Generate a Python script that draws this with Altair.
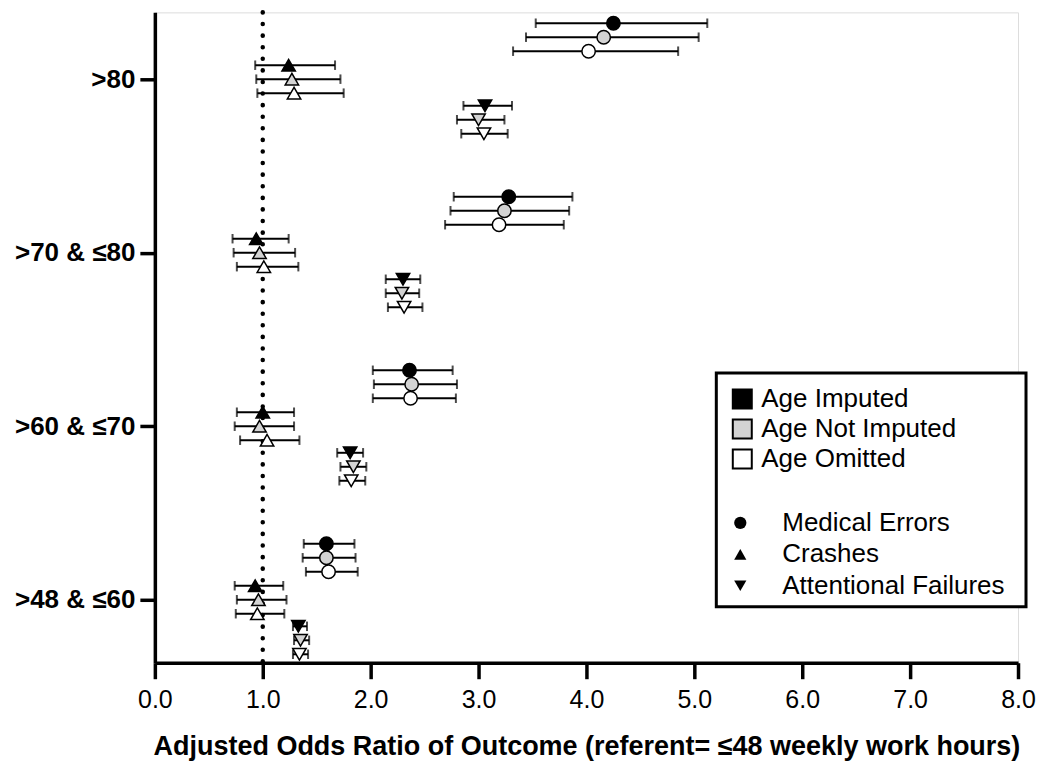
import altair as alt
import pandas as pd

categories = [">80", ">70 & ≤80", ">60 & ≤70", ">48 & ≤60"]
outcomes = ["Medical Errors", "Crashes", "Attentional Failures"]
models = ["Age Imputed", "Age Not Imputed", "Age Omitted"]

# values per model (Imputed, Not Imputed, Omitted), each listing categories top to bottom
me_or = [[4.25, 3.28, 2.36, 1.59], [4.16, 3.24, 2.38, 1.59], [4.02, 3.19, 2.37, 1.61]]
me_lo = [[3.53, 2.77, 2.02, 1.38], [3.44, 2.74, 2.03, 1.37], [3.32, 2.69, 2.02, 1.40]]
me_hi = [[5.12, 3.87, 2.76, 1.85], [5.04, 3.84, 2.80, 1.86], [4.85, 3.79, 2.79, 1.88]]

cr_or = [[1.24, 0.94, 1.00, 0.93], [1.27, 0.97, 0.97, 0.96], [1.29, 1.01, 1.04, 0.95]]
cr_lo = [[0.93, 0.72, 0.76, 0.74], [0.94, 0.73, 0.74, 0.76], [0.95, 0.76, 0.79, 0.75]]
cr_hi = [[1.67, 1.24, 1.29, 1.19], [1.72, 1.30, 1.29, 1.22], [1.75, 1.33, 1.34, 1.20]]

af_or = [[3.06, 2.30, 1.81, 1.33], [3.00, 2.29, 1.84, 1.35], [3.05, 2.31, 1.82, 1.34]]
af_lo = [[2.86, 2.14, 1.69, 1.28], [2.80, 2.14, 1.72, 1.29], [2.84, 2.16, 1.71, 1.28]]
af_hi = [[3.31, 2.46, 1.93, 1.41], [3.24, 2.45, 1.96, 1.43], [3.27, 2.48, 1.95, 1.42]]

x_ticks = [0, 1, 2, 3, 4, 5, 6, 7, 8]

# layout of rows inside each category band
slot = 14 / 173.7
outcome_base = {"Medical Errors": 4.0, "Crashes": 1.0, "Attentional Failures": -1.9}

series = {
    "Medical Errors": (me_or, me_lo, me_hi),
    "Crashes": (cr_or, cr_lo, cr_hi),
    "Attentional Failures": (af_or, af_lo, af_hi),
}

rows = []
for o in outcomes:
    o_or, o_lo, o_hi = series[o]
    for mi, m in enumerate(models):
        for ci, c in enumerate(categories):
            rows.append({
                "outcome": o,
                "model": m,
                "category": c,
                "OR": o_or[mi][ci],
                "lo": o_lo[mi][ci],
                "hi": o_hi[mi][ci],
                "y": (len(categories) - ci) + slot * (outcome_base[o] - mi),
            })
df = pd.DataFrame(rows)

FONT = "Liberation Sans"

label_expr = " : ".join(
    f"datum.value == {len(categories) - i} ? '{c}'" for i, c in enumerate(categories)
) + " : ''"

x_scale = alt.Scale(domain=[0, 8], nice=False, zero=False)
y_scale = alt.Scale(domain=[0.637, 4.385], nice=False, zero=False)

x_axis = alt.Axis(
    values=x_ticks, format=".1f", grid=False,
    title="Adjusted Odds Ratio of Outcome (referent= ≤48 weekly work hours)",
    titleFontSize=27, titleFontWeight="bold", titleFont=FONT, titleColor="black",
    titleY=92, titleBaseline="alphabetic",
    labelFontSize=25, labelFont=FONT, labelPadding=9, labelColor="black",
    labelFlush=False,
    tickSize=16, tickWidth=3.5, tickColor="black",
    domainWidth=3.5, domainColor="black",
)
y_axis = alt.Axis(
    values=[1, 2, 3, 4], labelExpr=label_expr, grid=False, title=None,
    labelFontSize=26, labelFontWeight="bold", labelFont=FONT, labelColor="black",
    labelPadding=5, tickSize=15, tickWidth=3.5, tickColor="black",
    domainWidth=3.5, domainColor="black", labelLimit=300,
)

base = alt.Chart(df)

legend_box = alt.Chart(pd.DataFrame({"k": [0]})).mark_rect(
    fill="white", stroke="black", strokeWidth=3
).encode(
    x=alt.value(562), x2=alt.value(872), y=alt.value(361), y2=alt.value(595)
)

ref = alt.Chart(pd.DataFrame({"ref": [1.0]})).mark_rule(
    color="black", strokeWidth=4.5, strokeDash=[0.1, 11.5], strokeCap="round"
).encode(x=alt.X("ref:Q", scale=x_scale, axis=x_axis))

bars = base.mark_rule(color="black", strokeWidth=2).encode(
    x=alt.X("lo:Q", scale=x_scale, axis=x_axis),
    x2="hi:Q",
    y=alt.Y("y:Q", scale=y_scale, axis=y_axis),
)

cap_shape = "M0,-1L0,1"
caps_lo = base.mark_point(shape=cap_shape, size=90, strokeWidth=2, color="black", filled=False).encode(
    x=alt.X("lo:Q", scale=x_scale, axis=x_axis),
    y=alt.Y("y:Q", scale=y_scale, axis=y_axis),
)
caps_hi = base.mark_point(shape=cap_shape, size=90, strokeWidth=2, color="black", filled=False).encode(
    x=alt.X("hi:Q", scale=x_scale, axis=x_axis),
    y=alt.Y("y:Q", scale=y_scale, axis=y_axis),
)

points = base.mark_point(filled=True, size=180, stroke="black", strokeWidth=1.5, opacity=1).encode(
    x=alt.X("OR:Q", scale=x_scale, axis=x_axis),
    y=alt.Y("y:Q", scale=y_scale, axis=y_axis),
    fill=alt.Fill(
        "model:N",
        scale=alt.Scale(domain=models, range=["black", "#d3d3d3", "white"]),
        legend=alt.Legend(
            title=None, orient="none", legendX=575, legendY=374,
            symbolType="square", symbolSize=361, symbolStrokeColor="black",
            symbolStrokeWidth=2, symbolOpacity=1,
            labelFontSize=26, labelFont=FONT, labelColor="black", labelLimit=400,
            labelOffset=6, rowPadding=2, padding=0,
        ),
    ),
    shape=alt.Shape(
        "outcome:N",
        scale=alt.Scale(domain=outcomes, range=["circle", "triangle-up", "triangle-down"]),
        legend=alt.Legend(
            title=None, orient="none", legendX=573, legendY=498,
            symbolSize=150, symbolFillColor="black", symbolStrokeColor="black",
            symbolStrokeWidth=0, symbolOpacity=1,
            labelFontSize=26, labelFont=FONT, labelColor="black", labelLimit=400,
            labelOffset=29, rowPadding=5.5, padding=0,
        ),
    ),
)

chart = alt.layer(legend_box, ref, bars, caps_lo, caps_hi, points).properties(
    width=864, height=651,
    padding={"left": 147, "top": 4, "right": 18, "bottom": 99},
    autosize=alt.AutoSizeParams(type="none"),
).resolve_legend(fill="independent", shape="independent").configure_view(stroke=None).configure(
    font=FONT
)

chart.save("out.html", embed_options={"renderer": "svg", "actions": False})
